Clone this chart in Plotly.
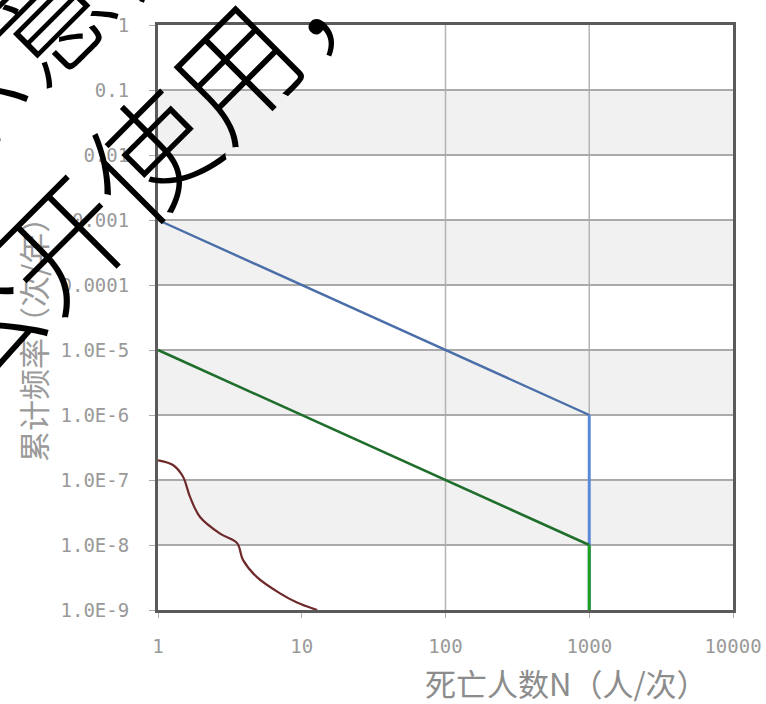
import plotly.graph_objects as go

# ---- data ----
x_ticks = [1, 10, 100, 1000, 10000]
x_tick_labels = ["1", "10", "100", "1000", "10000"]
y_ticks = [1, 1e-1, 1e-2, 1e-3, 1e-4, 1e-5, 1e-6, 1e-7, 1e-8, 1e-9]
y_tick_labels = ["1", "0.1", "0.01", "0.001", "0.0001", "1.0E-5", "1.0E-6",
                 "1.0E-7", "1.0E-8", "1.0E-9"]

# upper (unacceptable) criterion line
upper_N = [1, 1000]
upper_F = [1e-3, 1e-6]
upper_drop_N = [1000, 1000]
upper_drop_F = [1e-6, 1e-9]

# lower (negligible) criterion line
lower_N = [1, 1000]
lower_F = [1e-5, 1e-8]
lower_drop_N = [1000, 1000]
lower_drop_F = [1e-8, 1e-9]

# computed F-N curve
curve_N = [1.0, 1.27, 1.49, 1.67, 1.96, 2.70, 3.55, 3.9, 4.88, 7.06, 9.27, 12.8]
curve_F = [2.0e-7, 1.7e-7, 1.13e-7, 5.5e-8, 2.7e-8, 1.5e-8, 1.07e-8, 5.9e-9,
           3.2e-9, 1.8e-9, 1.3e-9, 1.0e-9]

# shaded decade bands (top, bottom) and vertical grid positions
bands = [(1e-1, 1e-2), (1e-3, 1e-4), (1e-5, 1e-6), (1e-7, 1e-8)]
v_grid = [100, 1000]

x_title = "死亡人数N（人/次）"
y_title = "累计频率（次/年）"
watermark_lines = ["仅供示意，", "请勿公开使用，"]

# ---- layout geometry ----
W, H = 766, 704
L, R, T, B = 158, 33, 25, 94
PW, PH = W - L - R, H - T - B


def px_to_paper(px, py):
    return (px - L) / PW, (H - B - py) / PH


fig = go.Figure()

fig.add_trace(go.Scatter(x=curve_N, y=curve_F, mode="lines", line_shape="spline",
                         line=dict(color="#6e2a2a", width=2.2), showlegend=False))
fig.add_trace(go.Scatter(x=upper_N, y=upper_F, mode="lines",
                         line=dict(color="#4a6ea8", width=2.4), showlegend=False))
fig.add_trace(go.Scatter(x=upper_drop_N, y=upper_drop_F, mode="lines",
                         line=dict(color="#5a8ad8", width=3), showlegend=False))
fig.add_trace(go.Scatter(x=lower_N, y=lower_F, mode="lines",
                         line=dict(color="#1f6e2c", width=2.6), showlegend=False))
fig.add_trace(go.Scatter(x=lower_drop_N, y=lower_drop_F, mode="lines",
                         line=dict(color="#1e9e22", width=3), showlegend=False))

shapes = []
for top, bot in bands:
    shapes.append(dict(type="rect", xref="paper", yref="y", x0=0, x1=1,
                       y0=bot, y1=top, fillcolor="#f1f1f1", line_width=0,
                       layer="below"))
for xv in v_grid:
    shapes.append(dict(type="line", xref="x", yref="paper", x0=xv, x1=xv,
                       y0=0, y1=1, line=dict(color="#b4b4b4", width=1.5),
                       layer="below"))

annotations = []
# axis titles
ax, ay = px_to_paper(566, 682)
annotations.append(dict(x=ax, y=ay, xref="paper", yref="paper", text=x_title,
                        showarrow=False, xanchor="center", yanchor="middle",
                        font=dict(family="Noto Sans CJK SC", size=31, color="#8c8c8c")))
ax, ay = px_to_paper(32, 332)
annotations.append(dict(x=ax, y=ay, xref="paper", yref="paper", text=y_title,
                        showarrow=False, textangle=-90, xanchor="center",
                        yanchor="middle",
                        font=dict(family="Noto Sans CJK SC", size=31, color="#9a9a9a")))
# watermark
wm_centers = [(-43, 98), (58, 238)]
for txt, (cx, cy) in zip(watermark_lines, wm_centers):
    ax, ay = px_to_paper(cx, cy)
    annotations.append(dict(x=ax, y=ay, xref="paper", yref="paper", text=txt,
                            showarrow=False, textangle=-45, xanchor="center",
                            yanchor="middle",
                            font=dict(family="Noto Sans CJK SC", size=122,
                                      color="#000000", weight=300)))

tick_font = dict(family="DejaVu Sans Mono", size=19, color="#999999")

fig.update_layout(
    width=W, height=H,
    margin=dict(l=L, r=R, t=T, b=B, autoexpand=False),
    paper_bgcolor="white", plot_bgcolor="white",
    shapes=shapes, annotations=annotations, showlegend=False,
    xaxis=dict(type="log", range=[0, 4], tickvals=x_ticks, ticktext=x_tick_labels,
               showgrid=False, zeroline=False, showline=True, mirror=True,
               linecolor="#5a5a5a", linewidth=3, ticks="outside", ticklen=5,
               tickcolor="#aaaaaa", ticklabelstandoff=12, tickfont=tick_font),
    yaxis=dict(type="log", range=[-9, 0], tickvals=y_ticks, ticktext=y_tick_labels,
               showgrid=True, gridcolor="#aaaaaa", gridwidth=1.5, zeroline=False,
               showline=True, mirror=True, linecolor="#5a5a5a", linewidth=3,
               ticks="outside", ticklen=6, tickcolor="#aaaaaa",
               ticklabelstandoff=16, tickfont=tick_font),
)

fig.write_html("out.html", config={"displayModeBar": False},
               post_script="document.body.style.margin='0';document.body.style.padding='0';")
